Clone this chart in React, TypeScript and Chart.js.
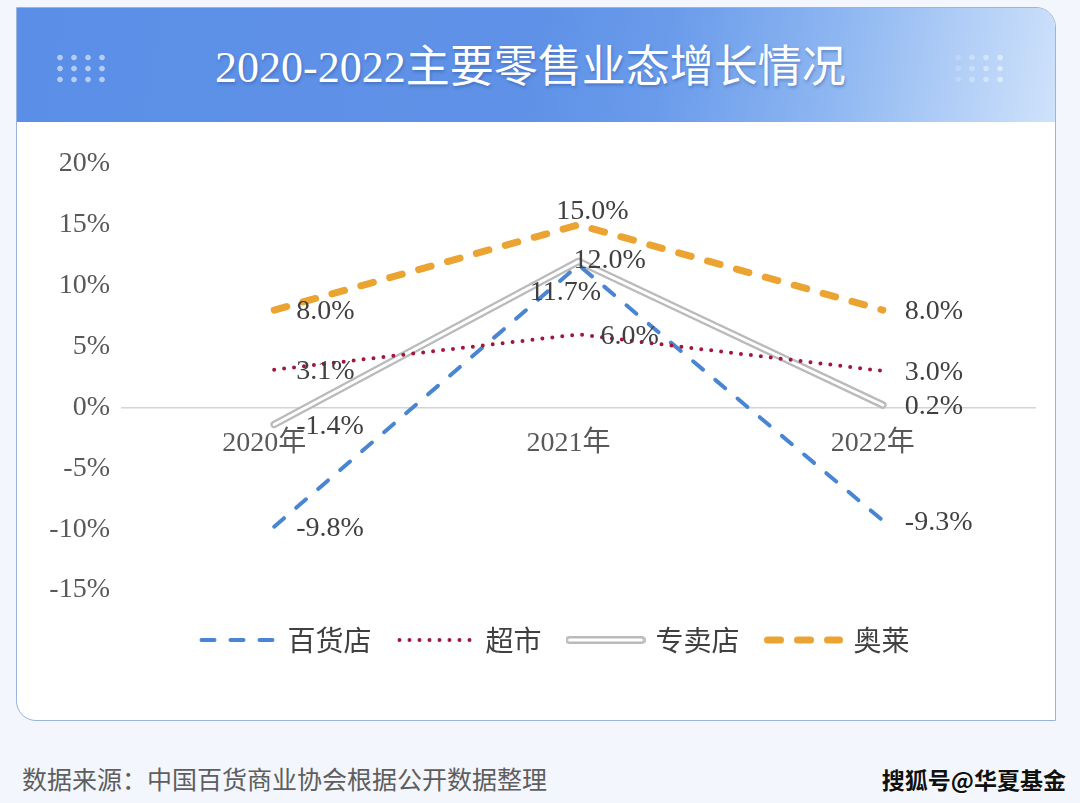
import React, { useEffect, useRef } from 'react';
import { Chart, registerables } from 'chart.js';

Chart.register(...registerables);

// ---------- data ----------
const categories = ['2020年', '2021年', '2022年'];
const seriesNames = ['百货店', '超市', '专卖店', '奥莱'];
const deptStore = [-9.8, 11.7, -9.3];
const supermarket = [3.1, 6.0, 3.0];
const specialtyStore = [-1.4, 12.0, 0.2];
const outlet = [8.0, 15.0, 8.0];
const yMin = -15;
const yMax = 20;
const yStep = 5;

// ---------- label placement codes (style) ----------
const deptLabelPos = ['right', 'belowLeft', 'right'];
const superLabelPos = ['right', 'right', 'right'];
const specialtyLabelPos = ['right', 'rightTight', 'right'];
const outletLabelPos = ['right', 'above', 'right'];

const SERIF = '"Liberation Serif", "Times New Roman", "Noto Sans CJK SC", serif';
const SANS = '"Noto Sans CJK SC", "Noto Sans", sans-serif';

const valueLabels = {
  id: 'valueLabels',
  afterDatasetsDraw(chart: any) {
    const ctx = chart.ctx;
    ctx.save();
    ctx.font = '28px ' + SERIF;
    ctx.fillStyle = '#404040';
    ctx.textBaseline = 'middle';
    chart.data.datasets.forEach((ds: any, di: number) => {
      const place = ds.labelPlacement;
      if (!place) return;
      const meta = chart.getDatasetMeta(di);
      meta.data.forEach((pt: any, i: number) => {
        const v = ds.data[i] as number;
        const text = v.toFixed(1) + '%';
        let x = pt.x;
        let y = pt.y;
        switch (place[i]) {
          case 'right':
            ctx.textAlign = 'left';
            x += 22;
            y += 2;
            break;
          case 'above':
            ctx.textAlign = 'center';
            x += 14;
            y -= 13;
            break;
          case 'belowLeft':
            ctx.textAlign = 'center';
            x -= 13;
            y += 28;
            break;
          case 'rightTight':
            ctx.textAlign = 'left';
            x -= 5;
            y -= 1;
            break;
        }
        ctx.fillText(text, x, y);
      });
    });
    ctx.restore();
  },
};

// centre the legend under the same point as the reference (box spans the y-axis area too)
const legendShift = {
  id: 'legendShift',
  afterLayout(chart: any) {
    const lg = chart.legend;
    if (lg) {
      lg.left += 27;
      lg.right += 27;
    }
  },
};

function doubleLineSwatch() {
  const c = document.createElement('canvas');
  c.width = 80;
  c.height = 12;
  const g = c.getContext('2d')!;
  g.lineCap = 'round';
  g.beginPath();
  g.moveTo(4, 6);
  g.lineTo(76, 6);
  g.strokeStyle = '#bababa';
  g.lineWidth = 8;
  g.stroke();
  g.strokeStyle = '#ffffff';
  g.lineWidth = 3.2;
  g.stroke();
  return c;
}

function ChartCanvas() {
  const ref = useRef<HTMLCanvasElement>(null);
  useEffect(() => {
    if (!ref.current) return;
    const swatch = doubleLineSwatch();
    const chart = new Chart(ref.current, {
      type: 'line',
      data: {
        labels: categories,
        datasets: [
          {
            label: seriesNames[0],
            data: deptStore,
            borderColor: '#4a85d3',
            borderWidth: 4,
            borderDash: [13, 16],
            borderCapStyle: 'round',
            pointRadius: 0,
            fill: false,
            order: 2,
            labelPlacement: deptLabelPos,
          } as any,
          {
            label: seriesNames[1],
            data: supermarket,
            borderColor: '#a3163c',
            borderWidth: 4,
            borderDash: [0, 10],
            borderCapStyle: 'round',
            pointRadius: 0,
            fill: false,
            order: 1,
            labelPlacement: superLabelPos,
          } as any,
          {
            label: seriesNames[2],
            data: specialtyStore,
            borderColor: '#bababa',
            borderWidth: 7.5,
            borderCapStyle: 'round',
            borderJoinStyle: 'round',
            pointRadius: 0,
            fill: false,
            order: 4,
            labelPlacement: specialtyLabelPos,
          } as any,
          {
            label: seriesNames[3],
            data: outlet,
            borderColor: '#eba331',
            borderWidth: 7,
            borderDash: [13, 17],
            borderCapStyle: 'round',
            pointRadius: 0,
            fill: false,
            order: 0,
            labelPlacement: outletLabelPos,
          } as any,
          {
            label: '_inner',
            data: specialtyStore,
            borderColor: '#ffffff',
            borderWidth: 3,
            borderCapStyle: 'round',
            borderJoinStyle: 'round',
            pointRadius: 0,
            fill: false,
            order: 3,
          } as any,
        ],
      },
      options: {
        responsive: false,
        devicePixelRatio: 1,
        animation: false,
        layout: { padding: { left: 5, right: 20, top: 42, bottom: 56 } },
        scales: {
          x: {
            type: 'category',
            offset: true,
            position: { y: 0 } as any,
            grid: { display: false, drawTicks: false },
            border: { display: true, color: '#d4d4d4', width: 1.5 },
            ticks: {
              font: { family: SERIF, size: 28 },
              color: '#595959',
              padding: 19,
              labelOffset: -10,
              maxRotation: 0,
            },
          },
          y: {
            min: yMin,
            max: yMax,
            grid: { display: false, drawTicks: false },
            border: { display: false },
            ticks: {
              stepSize: yStep,
              font: { family: SERIF, size: 28 },
              color: '#595959',
              padding: 12,
              callback: (v: any) => v + '%',
            },
            afterFit: (scale: any) => {
              scale.width = 100;
            },
          },
        },
        plugins: {
          tooltip: { enabled: false },
          legend: {
            position: 'bottom',
            title: { display: true, text: ' ', font: { size: 5, lineHeight: 1 }, padding: { top: 3, bottom: 0 } },
            labels: {
              usePointStyle: true,
              pointStyleWidth: 72,
              padding: 28,
              color: '#404040',
              font: { family: SANS, size: 28 },
              generateLabels: (ch: any) =>
                ch.data.datasets.slice(0, 4).map((ds: any, i: number) => ({
                  text: ds.label,
                  datasetIndex: i,
                  hidden: false,
                  fillStyle: ds.borderColor,
                  strokeStyle: ds.borderColor,
                  lineWidth: ds.borderWidth,
                  lineDash: ds.borderDash || [],
                  lineDashOffset: 0,
                  lineCap: ds.borderCapStyle,
                  lineJoin: 'round',
                  pointStyle: i === 2 ? swatch : 'line',
                  rotation: 0,
                  fontColor: '#404040',
                })),
            },
          },
        },
      } as any,
      plugins: [valueLabels, legendShift],
    });
    return () => chart.destroy();
  }, []);
  return <canvas ref={ref} width={1038} height={598} style={{ position: 'absolute', left: 17, top: 122 }} />;
}

export default function App() {
  const dots = (extra: React.CSSProperties): React.CSSProperties => ({
    position: 'absolute',
    top: 51.5,
    width: 56,
    height: 33,
    backgroundImage: 'radial-gradient(circle, rgba(255,255,255,0.55) 2.4px, rgba(255,255,255,0) 3.2px)',
    backgroundSize: '14px 11px',
    ...extra,
  });
  return (
    <div
      style={{
        position: 'absolute',
        left: 0,
        top: 0,
        width: 1080,
        height: 803,
        overflow: 'hidden',
        background: '#f3f6fc',
        fontFamily: SANS,
      }}
    >
      <div
        style={{
          position: 'absolute',
          left: 16,
          top: 7,
          width: 1040,
          height: 714,
          boxSizing: 'border-box',
          border: '1.5px solid #9ab4dc',
          borderRadius: '0 20px 0 20px',
          background: '#ffffff',
          overflow: 'hidden',
        }}
      >
        <div
          style={{
            position: 'absolute',
            left: 0,
            top: 0,
            right: 0,
            height: 114,
            background:
              'linear-gradient(100deg, #5b8ee6 0%, #5f92e7 50%, #6a9beb 62%, #8db6f1 78%, #cfe2fb 100%)',
          }}
        />
      </div>
      <div style={dots({ left: 53 })} />
      <div
        style={dots({
          left: 951,
          WebkitMaskImage: 'linear-gradient(to right, rgba(0,0,0,0.25), rgba(0,0,0,1))',
          maskImage: 'linear-gradient(to right, rgba(0,0,0,0.25), rgba(0,0,0,1))',
        } as any)}
      />
      <div
        style={{
          position: 'absolute',
          left: 215,
          top: 39,
          fontFamily: '"Liberation Serif", "Noto Sans CJK SC", serif',
          fontSize: 44,
          lineHeight: '58px',
          color: '#ffffff',
          whiteSpace: 'nowrap',
          textShadow: '1px 2px 3px rgba(30,60,130,0.35)',
        }}
      >
        2020-2022主要零售业态增长情况
      </div>
      <ChartCanvas />
      <div
        style={{
          position: 'absolute',
          left: 22,
          top: 762,
          fontSize: 25,
          lineHeight: '32px',
          color: '#5e5e5e',
          whiteSpace: 'nowrap',
        }}
      >
        数据来源：中国百货商业协会根据公开数据整理
      </div>
      <div
        style={{
          position: 'absolute',
          right: 14,
          top: 764,
          fontSize: 23,
          lineHeight: '30px',
          fontWeight: 700,
          color: '#111111',
          whiteSpace: 'nowrap',
          textShadow: '0 0 2px #fff, 0 0 2px #fff, 0 0 1px #fff',
        }}
      >
        搜狐号@华夏基金
      </div>
    </div>
  );
}
